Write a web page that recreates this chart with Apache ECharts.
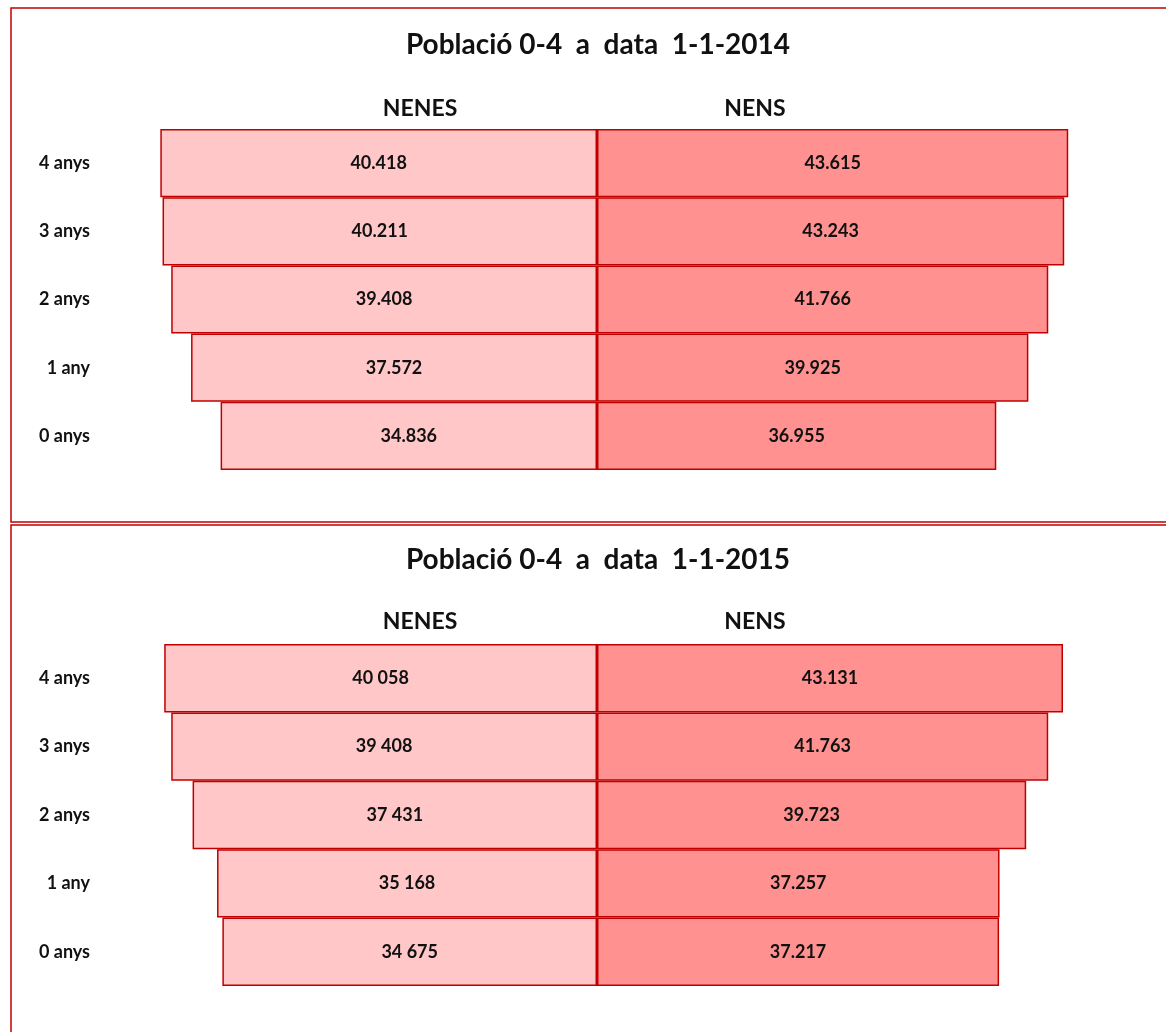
<!DOCTYPE html>
<html lang="ca">
<head>
    <meta charset="utf-8">
    <title>Població 0-4</title>
    <script src="https://cdn.jsdelivr.net/npm/echarts@6/dist/echarts.min.js"></script>
    <style>
        html, body { margin: 0; padding: 0; background: #fff; }
        #chart { width: 1166px; height: 1032px; }
    </style>
</head>
<body>
    <div id="chart"></div>
    <script>
    // edats (de baix a dalt)
    var ages = ['0 anys', '1 any', '2 anys', '3 anys', '4 anys'];

    // 1-1-2014
    var nenes2014 = [34836, 37572, 39408, 40211, 40418];
    var nens2014 = [36955, 39925, 41766, 43243, 43615];
    var nenesText2014 = ['34.836', '37.572', '39.408', '40.211', '40.418'];
    var nensText2014 = ['36.955', '39.925', '41.766', '43.243', '43.615'];

    // 1-1-2015
    var nenes2015 = [34675, 35168, 37431, 39408, 40058];
    var nens2015 = [37217, 37257, 39723, 41763, 43131];
    var nenesText2015 = ['34 675', '35 168', '37 431', '39 408', '40 058'];
    var nensText2015 = ['37.217', '37.257', '39.723', '41.763', '43.131'];

    var FONT = 'Lato';
    var RED = '#c00000';

    function neg(arr) {
        return arr.map(function (v) { return -v; });
    }

    function barSeries(name, idx, values, texts, color) {
        return {
            name: name,
            type: 'bar',
            xAxisIndex: idx,
            yAxisIndex: idx,
            stack: 'p' + idx,
            barWidth: '100%',
            data: values,
            itemStyle: { color: color, borderColor: RED, borderWidth: 1.5 },
            label: {
                show: true,
                position: 'inside',
                fontFamily: FONT,
                fontWeight: 'bold',
                fontSize: 18,
                color: '#111',
                formatter: function (p) { return texts[p.dataIndex]; }
            },
            silent: true
        };
    }

    var grids = [
        { left: 100, right: 72, top: 129, height: 341 },
        { left: 100, right: 72, top: 644, height: 342 }
    ];

    var xAxes = [0, 1].map(function (i) {
        return {
            type: 'value', gridIndex: i, min: -46000, max: 46000,
            show: false, splitLine: { show: false }
        };
    });

    var yAxes = [0, 1].map(function (i) {
        return {
            type: 'category', gridIndex: i, data: ages,
            axisLine: { show: false }, axisTick: { show: false },
            axisLabel: {
                margin: 10, fontFamily: FONT, fontWeight: 'bold',
                fontSize: 18, color: '#111'
            }
        };
    });

    function txt(x, y, s, size) {
        return {
            type: 'text', x: x, y: y,
            style: {
                text: s, fontFamily: FONT, fontWeight: 'bold', fontSize: size,
                fill: '#111', align: 'center', verticalAlign: 'middle'
            }
        };
    }

    var chart = echarts.init(document.getElementById('chart'));
    chart.setOption({
        animation: false,
        backgroundColor: '#fff',
        grid: grids,
        xAxis: xAxes,
        yAxis: yAxes,
        series: [
            barSeries('NENES', 0, neg(nenes2014), nenesText2014, '#ffc7c7'),
            barSeries('NENS', 0, nens2014, nensText2014, '#ff9191'),
            barSeries('NENES', 1, neg(nenes2015), nenesText2015, '#ffc7c7'),
            barSeries('NENS', 1, nens2015, nensText2015, '#ff9191')
        ],
        graphic: [
            { type: 'rect', z: -1, shape: { x: 11, y: 8, width: 1170, height: 514 },
              style: { fill: null, stroke: RED, lineWidth: 1.5 } },
            { type: 'rect', z: -1, shape: { x: 11, y: 525, width: 1170, height: 520 },
              style: { fill: null, stroke: RED, lineWidth: 1.5 } },
            txt(598, 45, 'Població 0-4  a  data  1-1-2014', 28),
            txt(420, 109, 'NENES', 23),
            txt(755, 109, 'NENS', 23),
            txt(598, 560, 'Població 0-4  a  data  1-1-2015', 28),
            txt(420, 622, 'NENES', 23),
            txt(755, 622, 'NENS', 23)
        ]
    });
    </script>
</body>
</html>
